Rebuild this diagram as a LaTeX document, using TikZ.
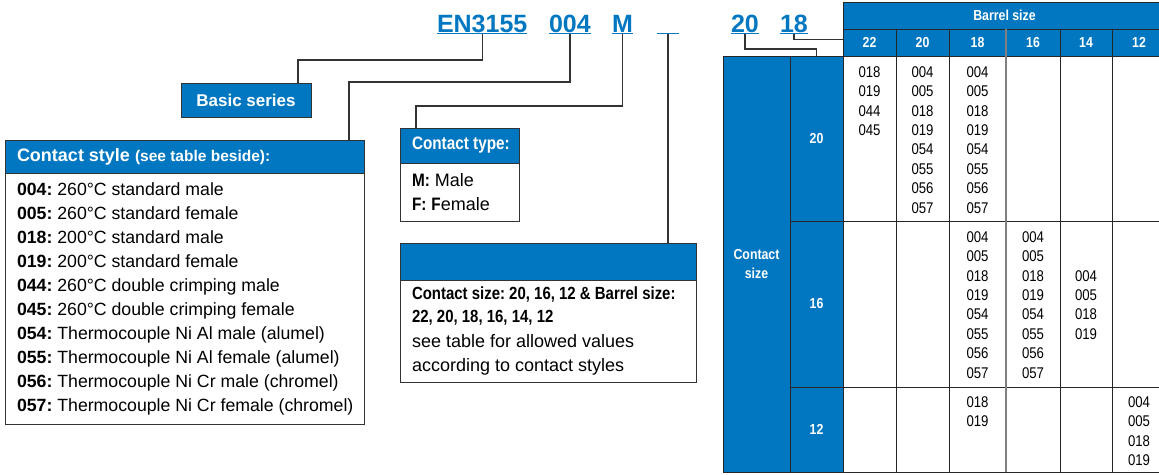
\documentclass[tikz,border=0pt]{standalone}
\usepackage{fontspec}
\setmainfont{Liberation Sans}
\newfontfamily\narrow{Liberation Sans}[FakeStretch=0.85]
\usetikzlibrary{positioning}
\frenchspacing

\definecolor{blueC}{RGB}{0,119,192}
\newcommand\allcodes{004\\005\\018\\019\\054\\055\\056\\057}

\begin{document}
\begin{tikzpicture}[
    x=1pt,
    y=-1pt,
    every node/.style={outer sep=0pt},
    code/.style={font=\fontsize{25}{25}\selectfont\bfseries, text=blueC, inner sep=0pt, anchor=base west, text height=18pt, text depth=1.5pt},
    codeline/.style={blueC, line width=1.6pt},
    link/.style={black!80, line width=1.3pt},
    head/.style={draw=black!80, line width=1pt, fill=blueC, anchor=north west},
    body/.style={draw=black!80, line width=1pt, fill=white, anchor=north west},
    headtext/.style={text=white, font=\bfseries, inner sep=0pt},
    bodytext/.style={align=left, inner sep=0pt},
    tcell/.style={draw=black!85, line width=1pt, anchor=north west, inner sep=0pt},
    thead/.style={tcell, fill=blueC, text=white, font=\narrow\bfseries\fontsize{14.5}{19}\selectfont, align=center},
    codes/.style={font=\narrow\fontsize{15.5}{19.4}\selectfont, align=center, inner sep=0pt}
]
    \useasboundingbox (0,0) rectangle (1159,474);

    % part number
    \node[code] (en) at (437,32) {EN3155};
    \node[code] (n004) at (549,32) {004};
    \node[code] (nM) at (612,32) {M};
    \node[code, minimum width=22pt] (nblank) at (657,32) {};
    \node[code] (n20) at (731,32) {20};
    \node[code] (n18) at (780,32) {18};
    \foreach \c in {en,n004,nM,nblank,n20,n18}
        \draw[codeline] (\c.south west) -- (\c.south east);

    % basic series
    \node[head, minimum width=130, minimum height=34, text=white, font=\bfseries\fontsize{17}{17}\selectfont] (basic) at (181,83) {Basic series};

    % contact style
    \node[head, minimum width=359, minimum height=33] (style) at (5,140) {};
    \node[headtext, right=12pt of style.west] (styletext)
        {\fontsize{18}{18}\selectfont Contact style {\fontsize{15.5}{15.5}\selectfont(see table beside):}};
    \node[body, minimum width=359, minimum height=251] (stylelist) at (style.south west) {};
    \node[bodytext, right=12pt of stylelist.west, font=\fontsize{17.7}{24}\selectfont] (stylelisttext)
        {\textbf{004:} 260°C standard male\\
         \textbf{005:} 260°C standard female\\
         \textbf{018:} 200°C standard male\\
         \textbf{019:} 200°C standard female\\
         \textbf{044:} 260°C double crimping male\\
         \textbf{045:} 260°C double crimping female\\
         \textbf{054:} Thermocouple Ni Al male (alumel)\\
         \textbf{055:} Thermocouple Ni Al female (alumel)\\
         \textbf{056:} Thermocouple Ni Cr male (chromel)\\
         \textbf{057:} Thermocouple Ni Cr female (chromel)};

    % contact type
    \node[head, minimum width=119, minimum height=35] (type) at (400,128) {};
    \node[headtext, right=12pt of type.west, font=\narrow\bfseries\fontsize{18}{18}\selectfont] (typetext) {Contact type:};
    \node[body, minimum width=119, minimum height=58] (typelist) at (type.south west) {};
    \node[bodytext, right=12pt of typelist.west, font=\fontsize{18}{24}\selectfont] (typelisttext)
        {{\narrow\bfseries M:} Male\\
         {\narrow\bfseries F:} {\narrow\bfseries F}emale};

    % contact and barrel size
    \node[head, minimum width=296, minimum height=37] (blank) at (400,243) {};
    \node[body, minimum width=296, minimum height=102] (blanklist) at (blank.south west) {};
    \node[bodytext, right=12pt of blanklist.west, font=\fontsize{18}{22.7}\selectfont] (blanklisttext)
        {{\narrow\bfseries\fontsize{17.6}{22.7}\selectfont Contact size: 20, 16, 12 \& Barrel size:}\\
         {\narrow\bfseries\fontsize{17.6}{22.7}\selectfont 22, 20, 18, 16, 14, 12}\\[2pt]
         see table for allowed values\\[1pt]
         according to contact styles};

    % table
    \node[thead, minimum width=323, minimum height=27] (barrel) at (843,2) {Barrel size};
    \foreach \n/\x/\w in {22/843/53, 20/896/53, 18/949/57, 16/1006/54, 14/1060/52, 12/1112/54}{
        \node[thead, minimum width=\w, minimum height=27] (b\n) at (\x,29) {\n};
        \foreach \r/\y/\h in {20/56/165, 16/221/166, 12/387/85}
            \node[tcell, minimum width=\w, minimum height=\h] (c\r-\n) at (\x,\y) {};
    }
    \node[thead, minimum width=67, minimum height=416] (csize) at (723,56) {Contact\\size};
    \foreach \r/\y/\h in {20/56/165, 16/221/166, 12/387/85}
        \node[thead, minimum width=53, minimum height=\h] (r\r) at (790,\y) {\r};
    \draw[black!50, line width=2pt] (b16.north west) -- (c12-16.south west);

    \node[codes, below=10.4pt of c20-22.north] (k20-22) {018\\019\\044\\045};
    \node[codes, below=10.4pt of c20-20.north] (k20-20) {\allcodes};
    \node[codes, below=10.4pt of c20-18.north] (k20-18) {\allcodes};
    \node[codes, below=10.4pt of c16-18.north] (k16-18) {\allcodes};
    \node[codes, below=10.4pt of c16-16.north] (k16-16) {\allcodes};
    \node[codes, below=49.2pt of c16-14.north] (k16-14) {004\\005\\018\\019};
    \node[codes, below=9.4pt of c12-18.north] (k12-18) {018\\019};
    \node[codes, below=9.4pt of c12-12.north] (k12-12) {004\\005\\018\\019};

    % connectors
    \draw[link] (en.south) -- ++(0,26.5) -| ([xshift=-13pt]basic.north east);
    \draw[link] (n004.south) -- ++(0,48.5) -| ([xshift=-15pt]style.north east);
    \draw[link] (nM.south) -- ++(0,72.5) -| ([xshift=16pt]type.north west);
    \draw[link] (nblank.south) -- (nblank.south |- blank.north);
    \draw[link] (n20.south) -- ++(0,15.5) -| (r20.north);
    \draw[link] (n18.south) |- ([yshift=3pt]b22.west);

\end{tikzpicture}
\end{document}
